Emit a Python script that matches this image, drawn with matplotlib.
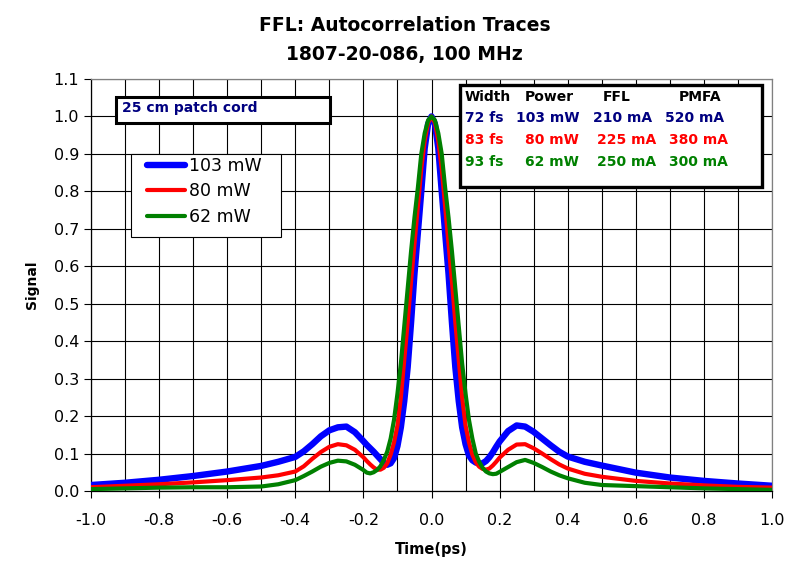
import matplotlib

matplotlib.use("Agg")
import matplotlib.pyplot as plt
from matplotlib.patches import Rectangle
from matplotlib.ticker import MultipleLocator, FormatStrFormatter

plt.rcParams["font.family"] = ["DejaVu Sans"]
plt.rcParams["axes.unicode_minus"] = False

BLUE = "#0000ff"
RED = "#ff0000"
GREEN = "#008000"
NAVY = "#000080"

# time axis (ps) shared by the three traces
time_ps = [
    -1.0, -0.9, -0.8, -0.7, -0.6, -0.5, -0.45, -0.4, -0.375, -0.35, -0.325,
    -0.3, -0.275, -0.25, -0.225, -0.2, -0.19, -0.18, -0.17, -0.16, -0.15,
    -0.14, -0.13, -0.12, -0.11, -0.1, -0.09, -0.08, -0.07, -0.06, -0.05,
    -0.04, -0.03, -0.02, -0.01, 0.0,
    0.01, 0.02, 0.03, 0.04, 0.05, 0.06, 0.07, 0.08, 0.09, 0.1, 0.11, 0.12,
    0.13, 0.14, 0.15, 0.16, 0.17, 0.18, 0.19, 0.2, 0.225, 0.25, 0.275, 0.3,
    0.325, 0.35, 0.375, 0.4, 0.45, 0.5, 0.6, 0.7, 0.8, 0.9, 1.0,
]

sig_103 = [
    0.016, 0.022, 0.030, 0.040, 0.052, 0.067, 0.078, 0.091, 0.106, 0.125, 0.146,
    0.162, 0.170, 0.172, 0.157, 0.133, 0.123, 0.114, 0.105, 0.095, 0.085,
    0.075, 0.070, 0.074, 0.088, 0.120, 0.170, 0.240, 0.330, 0.450, 0.580,
    0.690, 0.800, 0.915, 0.980, 1.000,
    0.980, 0.915, 0.800, 0.690, 0.580, 0.450, 0.330, 0.240, 0.170, 0.125, 0.095, 0.082,
    0.076, 0.073, 0.074, 0.080, 0.090, 0.103, 0.118, 0.132, 0.160, 0.175, 0.172, 0.158,
    0.140, 0.122, 0.105, 0.092, 0.078, 0.068, 0.049, 0.036, 0.027, 0.020, 0.014,
]

sig_80 = [
    0.010, 0.014, 0.018, 0.023, 0.029, 0.036, 0.042, 0.052, 0.066, 0.086, 0.104,
    0.118, 0.125, 0.122, 0.110, 0.090, 0.080, 0.071, 0.063, 0.057, 0.057,
    0.062, 0.074, 0.097, 0.130, 0.175, 0.250, 0.350, 0.450, 0.560, 0.660,
    0.760, 0.860, 0.935, 0.983, 1.000,
    0.983, 0.935, 0.860, 0.760, 0.660, 0.560, 0.450, 0.350, 0.250, 0.175, 0.130, 0.097,
    0.077, 0.065, 0.059, 0.057, 0.060, 0.068, 0.078, 0.089, 0.110, 0.124, 0.125, 0.114,
    0.100, 0.085, 0.071, 0.060, 0.046, 0.038, 0.027, 0.020, 0.015, 0.011, 0.009,
]

sig_62 = [
    0.005, 0.007, 0.009, 0.010, 0.010, 0.012, 0.018, 0.029, 0.040, 0.052, 0.065,
    0.075, 0.081, 0.079, 0.070, 0.056, 0.049, 0.047, 0.050, 0.056, 0.066,
    0.083, 0.105, 0.140, 0.190, 0.260, 0.340, 0.440, 0.540, 0.640, 0.730,
    0.810, 0.900, 0.955, 0.990, 1.000,
    0.990, 0.955, 0.900, 0.810, 0.730, 0.640, 0.540, 0.440, 0.340, 0.260, 0.190, 0.140,
    0.100, 0.078, 0.062, 0.052, 0.047, 0.045, 0.046, 0.051, 0.064, 0.077, 0.083, 0.075,
    0.064, 0.052, 0.042, 0.034, 0.022, 0.016, 0.013, 0.010, 0.007, 0.005, 0.003,
]

legend_labels = ["103 mW", "80 mW", "62 mW"]
x_ticks = [-1.0, -0.8, -0.6, -0.4, -0.2, 0.0, 0.2, 0.4, 0.6, 0.8, 1.0]

table_header = ["Width", "Power", "FFL", "PMFA"]
table_rows = [
    ["72 fs", "103 mW", "210 mA", "520 mA"],
    ["83 fs", "80 mW", "225 mA", "380 mA"],
    ["93 fs", "62 mW", "250 mA", "300 mA"],
]
row_colors = [NAVY, RED, GREEN]

fig = plt.figure(figsize=(8, 5.71), dpi=100, facecolor="white")
ax = fig.add_axes([0.11375, 0.14011, 0.85125, 0.72154])

line_kw = dict(solid_joinstyle="round", solid_capstyle="round", zorder=3)
ax.plot(time_ps, sig_103, color=BLUE, lw=4.6, label=legend_labels[0], **line_kw)
ax.plot(time_ps, sig_80, color=RED, lw=3.0, label=legend_labels[1], **line_kw)
ax.plot(time_ps, sig_62, color=GREEN, lw=3.0, label=legend_labels[2], **line_kw)

ax.set_xlim(-1.0, 1.0)
ax.set_ylim(0.0, 1.1)
ax.set_xticks(x_ticks)
ax.xaxis.set_minor_locator(MultipleLocator(0.1))
ax.yaxis.set_major_locator(MultipleLocator(0.1))
ax.xaxis.set_major_formatter(FormatStrFormatter("%.1f"))
ax.yaxis.set_major_formatter(FormatStrFormatter("%.1f"))

ax.grid(True, which="both", axis="x", color="black", lw=0.8)
ax.grid(True, which="major", axis="y", color="black", lw=0.8)
ax.set_axisbelow(True)

ax.tick_params(axis="x", which="major", direction="out", length=5, width=0.8,
               pad=11, labelsize=11.5, colors="black")
ax.tick_params(axis="y", which="major", direction="out", length=5, width=0.8,
               pad=3.6, labelsize=11.5, colors="black")
ax.tick_params(which="minor", length=0)

for side in ("left", "bottom"):
    ax.spines[side].set_color("black")
    ax.spines[side].set_linewidth(0.9)
for side in ("top", "right"):
    ax.spines[side].set_color("#808080")
    ax.spines[side].set_linewidth(0.9)

ax.set_xlabel("Time(ps)", fontsize=10.5, fontweight="bold")
ax.set_ylabel("Signal", fontsize=10, fontweight="bold")
ax.xaxis.label.set_va("center")
ax.yaxis.label.set_va("center")
ax.xaxis.set_label_coords(0.5, -0.143)
ax.yaxis.set_label_coords(-0.087, 0.5)

# "25 cm patch cord" note
ax.add_patch(Rectangle((0.0367, 0.8925), 0.3143, 0.0645, transform=ax.transAxes,
                       facecolor="white", edgecolor="black", lw=2.2, zorder=4))
ax.text(0.045, 0.929, "25 cm patch cord", transform=ax.transAxes, fontsize=10,
        fontweight="bold", color=NAVY, va="center", ha="left", zorder=5)

# legend with its own frame
ax.add_patch(Rectangle((0.0583, 0.6158), 0.2203, 0.2022, transform=ax.transAxes,
                       facecolor="white", edgecolor="black", lw=0.8, zorder=4))
leg = ax.legend(loc="upper left", bbox_to_anchor=(0.0822, 0.8116), frameon=False,
                borderpad=0, borderaxespad=0, labelspacing=0.44, handlelength=2.17,
                handletextpad=0.25, prop={"size": 12.5})
leg.set_zorder(6)

# parameter table
ax.add_patch(Rectangle((0.5419, 0.7386), 0.443, 0.2468, transform=ax.transAxes,
                       facecolor="white", edgecolor="black", lw=2.4, zorder=4))
header_x = [0.549, 0.637, 0.752, 0.8634]
col_x = [
    [0.549, 0.6236, 0.7372, 0.8429],
    [0.549, 0.6373, 0.7426, 0.8488],
    [0.549, 0.6373, 0.7426, 0.8488],
]
row_y = [0.9046, 0.852, 0.7993]
for x, label in zip(header_x, table_header):
    ax.text(x, 0.957, label, transform=ax.transAxes, fontsize=10, fontweight="bold",
            color="black", va="center", ha="left", zorder=5)
for xs, y, row, c in zip(col_x, row_y, table_rows, row_colors):
    for x, label in zip(xs, row):
        ax.text(x, y, label, transform=ax.transAxes, fontsize=10, fontweight="bold",
                color=c, va="center", ha="left", zorder=5)

fig.text(0.5056, 0.9545, "FFL: Autocorrelation Traces", ha="center", va="center",
         fontsize=13.5, fontweight="bold")
fig.text(0.5056, 0.9037, "1807-20-086, 100 MHz", ha="center", va="center",
         fontsize=13.5, fontweight="bold")

fig.savefig("out.png", dpi=100, facecolor="white")
